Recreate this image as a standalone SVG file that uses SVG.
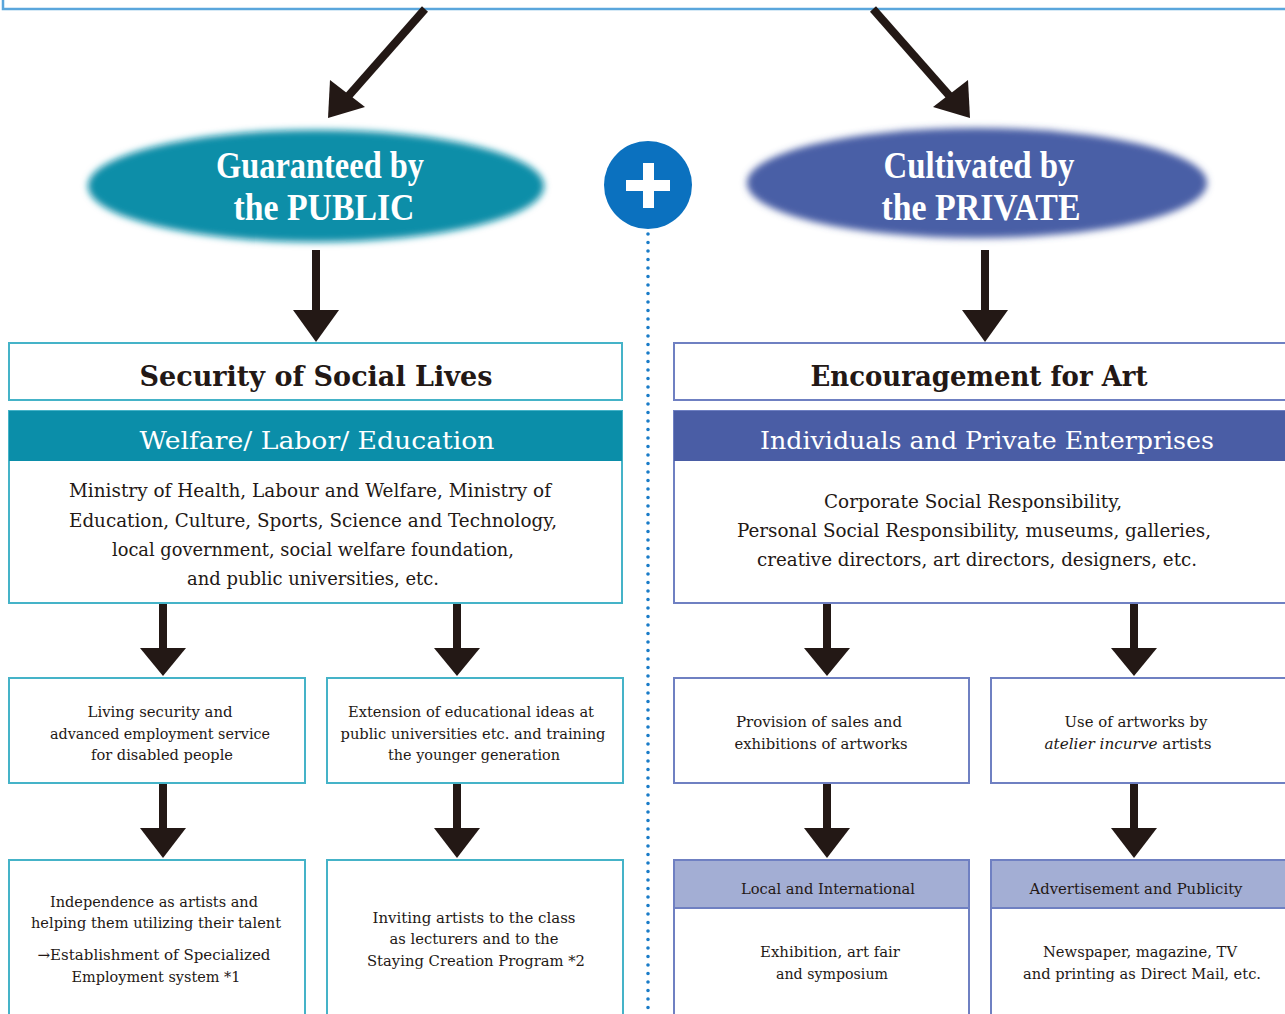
<svg xmlns="http://www.w3.org/2000/svg" width="1285" height="1014" viewBox="0 0 1285 1014">
<style>
text{font-family:"DejaVu Serif","Liberation Serif",serif;fill:#231815;text-anchor:middle}
.ell{font-family:"Liberation Serif","DejaVu Serif",serif;font-weight:bold;font-size:38px;fill:#fff}
.title{font-weight:bold;font-size:27px}
.hdr{font-size:24px;fill:#fff}
.body{font-size:18px}
.small{font-size:15px}
.tbox{fill:#fff;stroke:#45b3c8;stroke-width:2}
.bbox{fill:#fff;stroke:#6f80c2;stroke-width:2}
.arrow{fill:#231815}
.shaft{stroke:#231815;stroke-width:8;fill:none}
</style>
<defs>
<filter id="blur" x="-10%" y="-20%" width="120%" height="140%"><feGaussianBlur stdDeviation="3.5"/></filter>
</defs>
<rect width="1285" height="1014" fill="#fff"/>

<g id="top-box">
<rect x="3" y="-10" width="1290" height="19" fill="#fff" stroke="#5aa6dc" stroke-width="2.5"/>
</g>

<g id="divider">
<line x1="648" y1="234" x2="648" y2="1014" stroke="#1a7cc8" stroke-width="3.6" stroke-linecap="round" stroke-dasharray="0 8.5"/>
</g>

<g id="connectors">
<line class="shaft" x1="425" y1="9" x2="344" y2="101"/>
<polygon class="arrow" points="328,118 330,80 365,107"/>
<line class="shaft" x1="873" y1="9" x2="954" y2="101"/>
<polygon class="arrow" points="970,118 968,80 933,107"/>

<rect class="arrow" x="312" y="250" width="8" height="62"/>
<polygon class="arrow" points="293,310 339,310 316,342"/>
<rect class="arrow" x="981" y="250" width="8" height="62"/>
<polygon class="arrow" points="962,310 1008,310 985,342"/>

<rect class="arrow" x="159" y="604" width="8" height="46"/>
<polygon class="arrow" points="140,648 186,648 163,676"/>
<rect class="arrow" x="453" y="604" width="8" height="46"/>
<polygon class="arrow" points="434,648 480,648 457,676"/>
<rect class="arrow" x="823" y="604" width="8" height="46"/>
<polygon class="arrow" points="804,648 850,648 827,676"/>
<rect class="arrow" x="1130" y="604" width="8" height="46"/>
<polygon class="arrow" points="1111,648 1157,648 1134,676"/>

<rect class="arrow" x="159" y="784" width="8" height="46"/>
<polygon class="arrow" points="140,828 186,828 163,858"/>
<rect class="arrow" x="453" y="784" width="8" height="46"/>
<polygon class="arrow" points="434,828 480,828 457,858"/>
<rect class="arrow" x="823" y="784" width="8" height="46"/>
<polygon class="arrow" points="804,828 850,828 827,858"/>
<rect class="arrow" x="1130" y="784" width="8" height="46"/>
<polygon class="arrow" points="1111,828 1157,828 1134,858"/>
</g>

<g id="public">
<ellipse cx="316" cy="186" rx="228" ry="56" fill="#0e8ea8" filter="url(#blur)"/>
<text class="ell" x="320" y="178" textLength="208" lengthAdjust="spacingAndGlyphs">Guaranteed by</text>
<text class="ell" x="324" y="220" textLength="181" lengthAdjust="spacingAndGlyphs">the PUBLIC</text>
</g>

<g id="private">
<ellipse cx="977" cy="183" rx="230" ry="55" fill="#4a5ea6" filter="url(#blur)"/>
<text class="ell" x="979" y="178" textLength="191" lengthAdjust="spacingAndGlyphs">Cultivated by</text>
<text class="ell" x="981" y="220" textLength="199" lengthAdjust="spacingAndGlyphs">the PRIVATE</text>
</g>

<g id="plus">
<circle cx="648" cy="185" r="44" fill="#0b71bf"/>
<rect x="626" y="180" width="44" height="11" fill="#fff"/>
<rect x="643" y="163" width="11" height="45" fill="#fff"/>
</g>

<g id="security">
<rect class="tbox" x="9" y="343" width="613" height="57"/>
<text class="title" x="316" y="386" textLength="353" lengthAdjust="spacingAndGlyphs">Security of Social Lives</text>
</g>

<g id="encouragement">
<rect class="bbox" x="674" y="343" width="620" height="57"/>
<text class="title" x="979" y="386" textLength="337" lengthAdjust="spacingAndGlyphs">Encouragement for Art</text>
</g>

<g id="welfare">
<rect class="tbox" x="9" y="411" width="613" height="192"/>
<rect x="9" y="411" width="613" height="50" fill="#0b8ea9"/>
<text class="hdr" x="317" y="449" textLength="355" lengthAdjust="spacingAndGlyphs">Welfare/ Labor/ Education</text>
<text class="body" x="310" y="497" textLength="482" lengthAdjust="spacingAndGlyphs">Ministry of Health, Labour and Welfare, Ministry of</text>
<text class="body" x="313" y="527" textLength="488" lengthAdjust="spacingAndGlyphs">Education, Culture, Sports, Science and Technology,</text>
<text class="body" x="313" y="556" textLength="402" lengthAdjust="spacingAndGlyphs">local government, social welfare foundation,</text>
<text class="body" x="313" y="585" textLength="252" lengthAdjust="spacingAndGlyphs">and public universities, etc.</text>
</g>

<g id="individuals">
<rect class="bbox" x="674" y="411" width="620" height="192"/>
<rect x="674" y="411" width="620" height="50" fill="#4a5da5"/>
<text class="hdr" x="987" y="449" textLength="454" lengthAdjust="spacingAndGlyphs">Individuals and Private Enterprises</text>
<text class="body" x="973" y="508" textLength="298" lengthAdjust="spacingAndGlyphs">Corporate Social Responsibility,</text>
<text class="body" x="974" y="537" textLength="474" lengthAdjust="spacingAndGlyphs">Personal Social Responsibility, museums, galleries,</text>
<text class="body" x="977" y="566" textLength="440" lengthAdjust="spacingAndGlyphs">creative directors, art directors, designers, etc.</text>
</g>

<g id="living">
<rect class="tbox" x="9" y="678" width="296" height="105"/>
<text class="small" x="160" y="717" textLength="145" lengthAdjust="spacingAndGlyphs">Living security and</text>
<text class="small" x="160" y="739" textLength="220" lengthAdjust="spacingAndGlyphs">advanced employment service</text>
<text class="small" x="162" y="760" textLength="142" lengthAdjust="spacingAndGlyphs">for disabled people</text>
</g>

<g id="extension">
<rect class="tbox" x="327" y="678" width="296" height="105"/>
<text class="small" x="471" y="717" textLength="246" lengthAdjust="spacingAndGlyphs">Extension of educational ideas at</text>
<text class="small" x="473" y="739" textLength="265" lengthAdjust="spacingAndGlyphs">public universities etc. and training</text>
<text class="small" x="474" y="760" textLength="172" lengthAdjust="spacingAndGlyphs">the younger generation</text>
</g>

<g id="provision">
<rect class="bbox" x="674" y="678" width="295" height="105"/>
<text class="small" x="819" y="727" textLength="166" lengthAdjust="spacingAndGlyphs">Provision of sales and</text>
<text class="small" x="821" y="749" textLength="173" lengthAdjust="spacingAndGlyphs">exhibitions of artworks</text>
</g>

<g id="use">
<rect class="bbox" x="991" y="678" width="300" height="105"/>
<text class="small" x="1136" y="727" textLength="143" lengthAdjust="spacingAndGlyphs">Use of artworks by</text>
<text class="small" x="1128" y="749" textLength="167" lengthAdjust="spacingAndGlyphs"><tspan font-style="italic">atelier incurve</tspan> artists</text>
</g>

<g id="independence">
<rect class="tbox" x="9" y="860" width="296" height="170"/>
<text class="small" x="154" y="907" textLength="208" lengthAdjust="spacingAndGlyphs">Independence as artists and</text>
<text class="small" x="156" y="928" textLength="250" lengthAdjust="spacingAndGlyphs">helping them utilizing their talent</text>
<text class="small" x="154" y="960" textLength="233" lengthAdjust="spacingAndGlyphs">→Establishment of Specialized</text>
<text class="small" x="156" y="982" textLength="169" lengthAdjust="spacingAndGlyphs">Employment system *1</text>
</g>

<g id="inviting">
<rect class="tbox" x="327" y="860" width="296" height="170"/>
<text class="small" x="474" y="923" textLength="203" lengthAdjust="spacingAndGlyphs">Inviting artists to the class</text>
<text class="small" x="474" y="944" textLength="169" lengthAdjust="spacingAndGlyphs">as lecturers and to the</text>
<text class="small" x="476" y="966" textLength="218" lengthAdjust="spacingAndGlyphs">Staying Creation Program *2</text>
</g>

<g id="local">
<rect class="bbox" x="674" y="860" width="295" height="170"/>
<rect x="674" y="860" width="295" height="48" fill="#a3aed4" stroke="#6f80c2" stroke-width="2"/>
<text class="small" x="828" y="894" textLength="174" lengthAdjust="spacingAndGlyphs">Local and International</text>
<text class="small" x="830" y="957" textLength="140" lengthAdjust="spacingAndGlyphs">Exhibition, art fair</text>
<text class="small" x="832" y="979" textLength="112" lengthAdjust="spacingAndGlyphs">and symposium</text>
</g>

<g id="advertisement">
<rect class="bbox" x="991" y="860" width="300" height="170"/>
<rect x="991" y="860" width="300" height="48" fill="#a3aed4" stroke="#6f80c2" stroke-width="2"/>
<text class="small" x="1136" y="894" textLength="213" lengthAdjust="spacingAndGlyphs">Advertisement and Publicity</text>
<text class="small" x="1140" y="957" textLength="194" lengthAdjust="spacingAndGlyphs">Newspaper, magazine, TV</text>
<text class="small" x="1142" y="979" textLength="238" lengthAdjust="spacingAndGlyphs">and printing as Direct Mail, etc.</text>
</g>
</svg>
